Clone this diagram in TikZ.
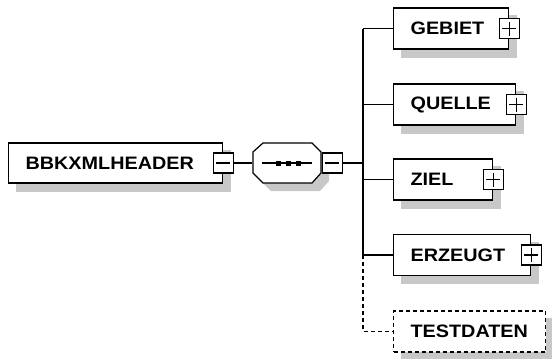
\documentclass[tikz,border=0pt]{standalone}
\usepackage{fontspec}
\setmainfont{Liberation Sans}[FakeStretch=1.1]
\usetikzlibrary{backgrounds,calc}
\definecolor{shadowgray}{RGB}{200,200,200}
\begin{document}
\begin{tikzpicture}[x=1pt,y=-1pt,line width=1.2pt,
  elem/.style={draw, fill=white, anchor=west, inner xsep=17pt, inner ysep=0pt,
    minimum height=41pt, font=\bfseries\fontsize{18}{18}\selectfont},
  optional/.style={dash pattern=on 4pt off 3pt},
  pm/.style={draw, fill=white, minimum size=20pt, inner sep=0pt},
  shadowfill/.style={fill=shadowgray}]
\useasboundingbox (0,0) rectangle (552,359);
\newcommand{\boxtext}[2]{\hbox to #1pt{#2\hss}}
% elements
\node[elem, minimum height=40pt] (hdr) at (8,163) {\boxtext{180}{BBKXMLHEADER}};
\node[elem] (gebiet) at (393,28.5) {\boxtext{81}{GEBIET}};
\node[elem] (quelle) at (393,104.5) {\boxtext{88}{QUELLE}};
\node[elem] (ziel) at (393,179.5) {\boxtext{65}{ZIEL}};
\node[elem] (erzeugt) at (393,255) {\boxtext{103}{ERZEUGT}};
\node[elem, optional] (testdaten) at (393,331.5) {\boxtext{118}{TESTDATEN}};
% shadows
\begin{scope}[on background layer]
\foreach \n in {hdr,gebiet,quelle,ziel,erzeugt,testdaten}{
  \fill[shadowfill] ($(\n.north west)+(8,8)$) rectangle ($(\n.south east)+(8,8)$);
}
\fill[shadowfill] (261,160) -- (271,151) -- (320,151) -- (329,160) -- (329,181) -- (320,191) -- (271,191) -- (261,181) -- cycle;
\end{scope}
% plus / minus boxes
\node[pm] (hdrm) at (hdr.east) {};
\draw (hdrm.center) +(-7,0) -- +(7,0);
\foreach \n in {gebiet,quelle,ziel,erzeugt}{
  \node[pm] (\n p) at (\n.east) {};
  \draw (\n p.center) +(-7,0) -- +(7,0) (\n p.center) +(0,-7) -- +(0,7);
}
% sequence compositor
\node[minimum width=68pt, minimum height=40pt, inner sep=0pt] (seq) at (287,163) {};
\draw[fill=white] (253,152) -- (263,143) -- (312,143) -- (321,152) -- (321,173) -- (312,183) -- (263,183) -- (253,173) -- cycle;
\draw (262,163) -- (312,163);
\foreach \xx in {278,288,298}{\fill (\xx-2.5,160.5) rectangle (\xx+2.5,165.5);}
\node[pm, anchor=west] (seqm) at (321.5,163) {};
\draw (seqm.center) +(-7,0) -- +(7,0);
% connectors
\coordinate (bus) at (363,163);
\draw (hdrm.east) -- (seq.west);
\draw (seqm.east) -- (bus);
\draw (gebiet.west -| bus) -- (erzeugt.west -| bus);
\foreach \n in {gebiet,quelle,ziel,erzeugt}{\draw (\n.west -| bus) -- (\n.west);}
\draw[optional] (erzeugt.west -| bus) -- (testdaten.west -| bus) -- (testdaten.west);
\end{tikzpicture}
\end{document}
